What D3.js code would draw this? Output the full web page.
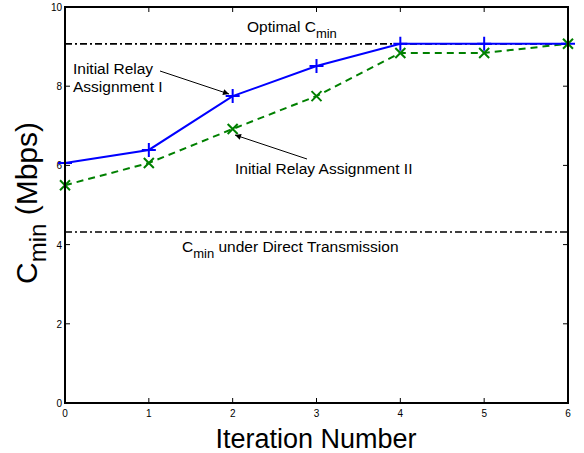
<!DOCTYPE html>
<html><head><meta charset="utf-8">
<script src="https://cdn.jsdelivr.net/npm/d3@7"></script>
<style>body{margin:0;background:#fff;} text{font-family:"Liberation Sans",Arial,sans-serif;}</style>
</head><body>
<svg id="c" width="584" height="453"></svg>
<script>
const iterations = [0,1,2,3,4,5,6];
const assignmentI = [6.06,6.39,7.75,8.51,9.07,9.07,9.07];
const assignmentII = [5.50,6.06,6.92,7.75,8.84,8.84,9.07];
const optimalCmin = 9.07;
const directCmin = 4.32;
const xTicks = [0,1,2,3,4,5,6];
const yTicks = [0,2,4,6,8,10];

const svg = d3.select("#c");
const L=65,R=568,T=7,B=403;
const x = d3.scaleLinear().domain([0,6]).range([L,R]);
const y = d3.scaleLinear().domain([0,10]).range([B,T]);

const g = svg.append("g");
const tl = 5;
xTicks.forEach(t=>{
  g.append("line").attr("x1",x(t)).attr("x2",x(t)).attr("y1",B).attr("y2",B-tl).attr("stroke","#000");
  g.append("line").attr("x1",x(t)).attr("x2",x(t)).attr("y1",T).attr("y2",T+tl).attr("stroke","#000");
  g.append("text").attr("x",x(t)).attr("y",B+14).attr("text-anchor","middle").attr("font-size",10).text(t);
});
yTicks.forEach(t=>{
  g.append("line").attr("y1",y(t)).attr("y2",y(t)).attr("x1",L).attr("x2",L+tl).attr("stroke","#000");
  g.append("line").attr("y1",y(t)).attr("y2",y(t)).attr("x1",R).attr("x2",R-tl).attr("stroke","#000");
  g.append("text").attr("x",L-3).attr("y",y(t)+4).attr("text-anchor","end").attr("font-size",10).text(t);
});

[optimalCmin,directCmin].forEach(v=>{
  svg.append("line").attr("x1",L).attr("x2",R).attr("y1",y(v)).attr("y2",y(v))
    .attr("stroke","#000").attr("stroke-width",1.6).attr("stroke-dasharray","7,3,2,3");
});

const line = d3.line().x((d,i)=>x(iterations[i])).y(d=>y(d));
svg.append("path").datum(assignmentII).attr("d",line).attr("fill","none")
  .attr("stroke","#008000").attr("stroke-width",2).attr("stroke-dasharray","7,5");
svg.append("path").datum(assignmentI).attr("d",line).attr("fill","none")
  .attr("stroke","#0000ff").attr("stroke-width",2);

const s=7;
assignmentI.forEach((v,i)=>{
  const cx=x(iterations[i]), cy=y(v);
  svg.append("path").attr("d",`M${cx-s},${cy}H${cx+s}M${cx},${cy-s}V${cy+s}`)
    .attr("stroke","#0000ff").attr("stroke-width",2);
});
const s2=5;
assignmentII.forEach((v,i)=>{
  const cx=x(iterations[i]), cy=y(v);
  svg.append("path").attr("d",`M${cx-s2},${cy-s2}L${cx+s2},${cy+s2}M${cx-s2},${cy+s2}L${cx+s2},${cy-s2}`)
    .attr("stroke","#008000").attr("stroke-width",2);
});

svg.append("rect").attr("x",L).attr("y",T).attr("width",R-L).attr("height",B-T)
  .attr("fill","none").attr("stroke","#000").attr("stroke-width",2);

const fs = 15.5, sfs = 13;
const t1 = svg.append("text").attr("x",247).attr("y",32).attr("font-size",fs);
t1.append("tspan").text("Optimal C");
t1.append("tspan").attr("dy",6).attr("font-size",sfs).text("min");

const t2 = svg.append("text").attr("x",182).attr("y",252).attr("font-size",fs);
t2.append("tspan").text("C");
t2.append("tspan").attr("dy",6).attr("font-size",sfs).text("min");
t2.append("tspan").attr("dy",-6).text(" under Direct Transmission");

svg.append("text").attr("x",73).attr("y",74).attr("font-size",fs).text("Initial Relay");
svg.append("text").attr("x",73).attr("y",92).attr("font-size",fs).text("Assignment I");
svg.append("text").attr("x",235).attr("y",174).attr("font-size",fs).text("Initial Relay Assignment II");

const defs = svg.append("defs");
defs.append("marker").attr("id","ah").attr("viewBox","0 0 10 10").attr("refX",10).attr("refY",5)
  .attr("markerWidth",8).attr("markerHeight",6).attr("markerUnits","userSpaceOnUse").attr("orient","auto")
  .append("path").attr("d","M0,0L10,5L0,10z").attr("fill","#000");
svg.append("line").attr("x1",160).attr("y1",71).attr("x2",229).attr("y2",94)
  .attr("stroke","#000").attr("stroke-width",1).attr("marker-end","url(#ah)");
svg.append("line").attr("x1",307).attr("y1",159).attr("x2",235).attr("y2",135)
  .attr("stroke","#000").attr("stroke-width",1).attr("marker-end","url(#ah)");

svg.append("text").attr("x",316).attr("y",448).attr("text-anchor","middle").attr("font-size",27).text("Iteration Number");
const yl = svg.append("text").attr("transform","translate(37,203) rotate(-90)").attr("text-anchor","middle").attr("font-size",30);
yl.append("tspan").text("C");
yl.append("tspan").attr("dy",9).attr("font-size",24).text("min");
yl.append("tspan").attr("dy",-9).text("  (Mbps)");
</script>
</body></html>
